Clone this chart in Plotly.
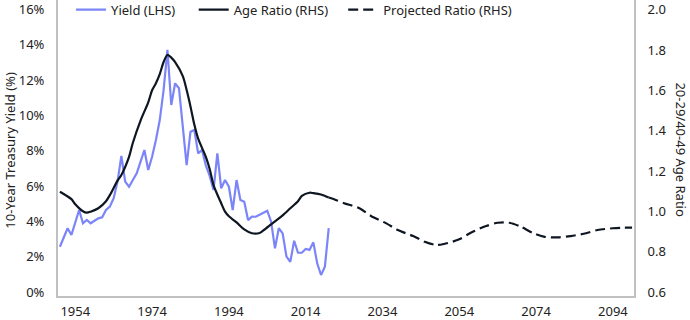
import plotly.graph_objects as go

# ---- data ----
yield_years = list(range(1950, 2021))
yield_pct = [2.79, 3.29, 3.84, 3.46, 4.15, 4.87, 4.12, 4.31, 4.12, 4.25,
             4.40, 4.46, 4.87, 5.06, 5.54, 6.48, 7.93, 6.48, 6.19, 6.57,
             6.95, 7.61, 8.27, 7.14, 7.89, 8.84, 9.97, 11.67, 13.95, 10.82,
             12.05, 11.77, 9.59, 7.42, 9.31, 9.41, 8.08, 8.27, 7.40, 6.80,
             6.01, 8.08, 6.10, 6.57, 6.19, 4.87, 6.57, 5.44, 5.34, 4.30,
             4.50, 4.49, 4.60, 4.72, 4.83, 4.21, 2.70, 3.84, 3.55, 2.23,
             1.94, 3.13, 2.45, 2.45, 2.66, 2.61, 3.04, 1.85, 1.19, 1.66,
             3.84]

ratio_years = [1950, 1953, 1954, 1956, 1957, 1958, 1960, 1962, 1963, 1965,
               1966, 1968, 1969, 1971, 1973, 1974, 1975, 1976, 1977, 1978,
               1979, 1980, 1982, 1983, 1984, 1985, 1986, 1988, 1989, 1990,
               1992, 1993, 1994, 1996, 1998, 2000, 2002, 2003, 2005, 2006,
               2008, 2010, 2012, 2013, 2015, 2016, 2018, 2020]
ratio_vals = [1.117, 1.080, 1.055, 1.020, 1.013, 1.018, 1.035, 1.070, 1.100, 1.172,
              1.200, 1.290, 1.360, 1.470, 1.560, 1.620, 1.655, 1.700, 1.760, 1.795,
              1.782, 1.760, 1.690, 1.621, 1.540, 1.450, 1.380, 1.290, 1.230, 1.150,
              1.060, 1.018, 0.995, 0.965, 0.930, 0.911, 0.912, 0.925, 0.955, 0.970,
              1.000, 1.035, 1.070, 1.096, 1.112, 1.110, 1.103, 1.088]

proj_years = [2020, 2022, 2024, 2028, 2031, 2035, 2038, 2042, 2045, 2048,
              2050, 2054, 2057, 2061, 2064, 2067, 2070, 2073, 2076, 2080,
              2083, 2087, 2090, 2094, 2097, 2099]
proj_vals = [1.088, 1.075, 1.060, 1.035, 0.997, 0.960, 0.927, 0.897, 0.869, 0.853,
             0.858, 0.881, 0.914, 0.947, 0.963, 0.963, 0.944, 0.914, 0.894, 0.891,
             0.897, 0.911, 0.927, 0.936, 0.939, 0.939]

x_ticks = [1954, 1974, 1994, 2014, 2034, 2054, 2074, 2094]
y_left_ticks = [0, 2, 4, 6, 8, 10, 12, 14, 16]
y_left_labels = ["0%", "2%", "4%", "6%", "8%", "10%", "12%", "14%", "16%"]
y_right_ticks = [0.6, 0.8, 1.0, 1.2, 1.4, 1.6, 1.8, 2.0]
y_right_labels = ["0.6", "0.8", "1.0", "1.2", "1.4", "1.6", "1.8", "2.0"]

# ---- styles ----
YIELD_COLOR = "#7b85f8"
RATIO_COLOR = "#0e1622"
AXIS_COLOR = "#c0c0c0"
TEXT_COLOR = "#222222"
FONT = "Noto Sans"
NB = "\u00a0"

fig = go.Figure()
fig.add_trace(go.Scatter(x=yield_years, y=yield_pct, name="Yield (LHS)" + NB * 4,
                         mode="lines", line=dict(color=YIELD_COLOR, width=2.2),
                         yaxis="y"))
fig.add_trace(go.Scatter(x=ratio_years, y=ratio_vals, name="Age Ratio (RHS)" + NB * 3,
                         mode="lines", line=dict(color=RATIO_COLOR, width=2.2, shape="spline", smoothing=0.8),
                         yaxis="y2"))
fig.add_trace(go.Scatter(x=proj_years, y=proj_vals, name="Projected Ratio (RHS)",
                         mode="lines", line=dict(color=RATIO_COLOR, width=2.2, dash="10px,5px",
                                                 shape="spline", smoothing=0.8),
                         yaxis="y2"))

fig.update_layout(
    width=690, height=320,
    margin=dict(l=58, r=56, t=0, b=24, autoexpand=False),
    paper_bgcolor="white", plot_bgcolor="white",
    font=dict(family=FONT, size=13, color=TEXT_COLOR),
    showlegend=True,
    legend=dict(orientation="h", x=0.0226, xanchor="left", y=1.018, yanchor="top",
                bgcolor="rgba(0,0,0,0)", font=dict(size=13, color=TEXT_COLOR),
                itemwidth=30, tracegroupgap=0),
    xaxis=dict(range=[1949.5, 2099.5], tickmode="array", tickvals=x_ticks,
               showgrid=False, zeroline=False, showline=True, linecolor=AXIS_COLOR,
               linewidth=2, ticks="", ticklabelstandoff=2, automargin=False),
    yaxis=dict(range=[0, 16.77], tickmode="array", tickvals=y_left_ticks,
               ticktext=y_left_labels, showgrid=False, zeroline=False,
               showline=True, linecolor=AXIS_COLOR, linewidth=2, ticks="",
               ticklabelstandoff=9, ticklabelshift=-4, automargin=False),
    yaxis2=dict(range=[0.6, 2.0675], tickmode="array", tickvals=y_right_ticks,
                ticktext=y_right_labels, overlaying="y", side="right",
                showgrid=False, zeroline=False, showline=True, linecolor=AXIS_COLOR,
                linewidth=2, ticks="", ticklabelstandoff=9, ticklabelshift=-4,
                automargin=False),
    annotations=[
        dict(text="10-Year Treasury Yield (%)", xref="paper", yref="paper",
             x=-0.084, y=0.493, showarrow=False, textangle=-90,
             font=dict(size=13, color=TEXT_COLOR), xanchor="center", yanchor="middle"),
        dict(text="20-29/40-49 Age Ratio", xref="paper", yref="paper",
             x=1.081, y=0.493, showarrow=False, textangle=90,
             font=dict(size=13, color=TEXT_COLOR), xanchor="center", yanchor="middle"),
    ],
)

fig.write_html("out.html")
